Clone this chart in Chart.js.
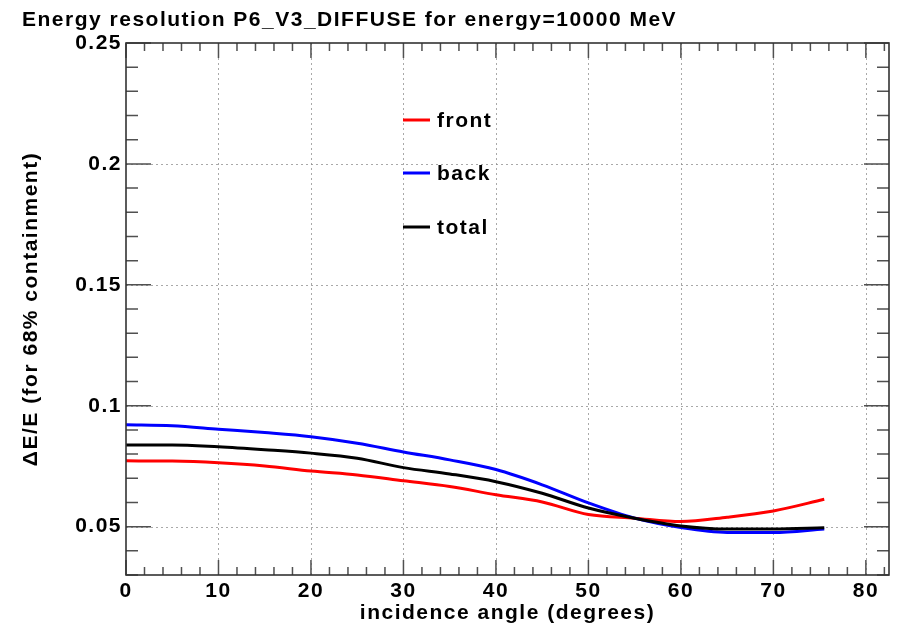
<!DOCTYPE html>
<html><head><meta charset="utf-8">
<script src="https://cdn.jsdelivr.net/npm/chart.js@4/dist/chart.umd.min.js"></script>
<style>html,body{margin:0;padding:0;background:#fff}canvas{display:block}</style>
</head><body>
<canvas id="c" width="898" height="632"></canvas>
<script>
// ---- data ----
const chartTitle = "Energy resolution P6_V3_DIFFUSE for energy=10000 MeV";
const xTitle = "incidence angle (degrees)";
const yTitle = "\u0394E/E (for 68% containment)";
const seriesNames = ["front", "back", "total"];
const angles = [0, 5, 10, 15, 20, 25, 30, 35, 40, 45, 50, 55, 60, 65, 70, 75.5];
const front = [0.0772, 0.0771, 0.0764, 0.0751, 0.0730, 0.0714, 0.0690, 0.0666, 0.0632, 0.0602, 0.0550, 0.0535, 0.0521, 0.0539, 0.0565, 0.0613];
const back  = [0.0921, 0.0917, 0.0903, 0.0889, 0.0872, 0.0845, 0.0809, 0.0776, 0.0736, 0.0673, 0.0598, 0.0535, 0.0496, 0.0476, 0.0476, 0.0490];
const total = [0.0838, 0.0838, 0.0830, 0.0818, 0.0804, 0.0783, 0.0744, 0.0718, 0.0686, 0.0638, 0.0577, 0.0535, 0.0503, 0.0490, 0.0490, 0.0495];
const xTickValues = [0, 10, 20, 30, 40, 50, 60, 70, 80];
const xTickLabels = ["0", "10", "20", "30", "40", "50", "60", "70", "80"];
const yTickValues = [0.05, 0.1, 0.15, 0.2, 0.25];
const yTickLabels = ["0.05", "0.1", "0.15", "0.2", "0.25"];
const xMin = 0, xMax = 82.5, yMin = 0.03, yMax = 0.25;
const xMinorStep = 2, yMinorStep = 0.01;

// ---- style ----
const FONT = "'Liberation Sans', Arial, Helvetica, sans-serif";
const SPACING = '1.5px';
const colors = ['#ff0000', '#0000ff', '#000000'];

function pts(ys) { return angles.map((a, i) => ({x: a, y: ys[i]})); }

const rootStyle = {
  id: 'rootStyle',
  beforeDraw(chart) { chart.ctx.letterSpacing = SPACING; },
  beforeDatasetsDraw(chart) {
    const {ctx, chartArea: ca, scales: {x, y}} = chart;
    ctx.save();
    ctx.strokeStyle = 'rgba(140,140,140,0.75)';
    ctx.lineWidth = 1;
    ctx.setLineDash([2, 3]);
    xTickValues.forEach(v => {
      const px = Math.round(x.getPixelForValue(v)) + 0.5;
      if (px <= ca.left + 1 || px >= ca.right - 1) return;
      ctx.beginPath(); ctx.moveTo(px, ca.top); ctx.lineTo(px, ca.bottom); ctx.stroke();
    });
    yTickValues.forEach(v => {
      const py = Math.round(y.getPixelForValue(v)) + 0.5;
      if (py <= ca.top + 1 || py >= ca.bottom - 1) return;
      ctx.beginPath(); ctx.moveTo(ca.left, py); ctx.lineTo(ca.right, py); ctx.stroke();
    });
    ctx.restore();
  },
  afterDatasetsDraw(chart) {
    const {ctx, chartArea: ca, scales: {x, y}} = chart;
    ctx.save();
    ctx.setLineDash([]);
    // ticks
    ctx.strokeStyle = '#505050';
    ctx.lineWidth = 1.5;
    for (let v = xMin; v <= xMax + 1e-9; v += xMinorStep) {
      const major = Math.abs(v / 10 - Math.round(v / 10)) < 1e-6;
      const len = major ? 15 : 8;
      const px = x.getPixelForValue(v);
      ctx.beginPath();
      ctx.moveTo(px, ca.bottom); ctx.lineTo(px, ca.bottom - len);
      ctx.moveTo(px, ca.top); ctx.lineTo(px, ca.top + len);
      ctx.stroke();
    }
    for (let k = 0; ; k++) {
      const v = yMin + k * yMinorStep;
      if (v > yMax + 1e-9) break;
      const major = Math.abs(v / 0.05 - Math.round(v / 0.05)) < 1e-6;
      const len = major ? 25 : 12;
      const py = y.getPixelForValue(v);
      ctx.beginPath();
      ctx.moveTo(ca.left, py); ctx.lineTo(ca.left + len, py);
      ctx.moveTo(ca.right, py); ctx.lineTo(ca.right - len, py);
      ctx.stroke();
    }
    // frame
    ctx.strokeStyle = '#333333';
    ctx.lineWidth = 1.6;
    ctx.strokeRect(ca.left, ca.top, ca.right - ca.left, ca.bottom - ca.top);
    // legend
    const lx = 403, lw = 27, tx = 437, ly = [120, 173, 227];
    ctx.font = 'bold 21px ' + FONT;
    ctx.textBaseline = 'middle';
    ctx.textAlign = 'left';
    chart.data.datasets.forEach((ds, i) => {
      ctx.strokeStyle = ds.borderColor;
      ctx.lineWidth = 3;
      ctx.beginPath(); ctx.moveTo(lx, ly[i]); ctx.lineTo(lx + lw, ly[i]); ctx.stroke();
      ctx.fillStyle = '#000';
      ctx.fillText(ds.label, tx, ly[i] + 1);
    });
    ctx.restore();
  },
  afterDraw(chart) {
    const ctx = chart.ctx;
    ctx.save();
    ctx.font = 'bold 21px ' + FONT;
    ctx.fillStyle = '#000';
    ctx.textBaseline = 'alphabetic';
    ctx.textAlign = 'left';
    ctx.fillText(chartTitle, 22, 26);
    ctx.restore();
    ctx.letterSpacing = '0px';
  }
};

const tickFont = {family: FONT, size: 21, weight: 'bold'};

new Chart(document.getElementById('c'), {
  type: 'line',
  data: {
    datasets: [
      {label: seriesNames[0], data: pts(front), borderColor: colors[0], order: 3},
      {label: seriesNames[1], data: pts(back), borderColor: colors[1], order: 2},
      {label: seriesNames[2], data: pts(total), borderColor: colors[2], order: 1}
    ]
  },
  options: {
    responsive: false,
    animation: false,
    devicePixelRatio: 1,
    layout: {padding: {top: 43, right: 9, left: 0, bottom: 0}},
    plugins: {legend: {display: false}, tooltip: {enabled: false}, title: {display: false}},
    elements: {
      point: {radius: 0, hoverRadius: 0},
      line: {borderWidth: 3, cubicInterpolationMode: 'monotone', fill: false}
    },
    scales: {
      x: {
        type: 'linear', min: xMin, max: xMax,
        grid: {display: false, drawTicks: false},
        border: {display: false},
        afterBuildTicks: s => { s.ticks = xTickValues.map(v => ({value: v})); },
        afterFit: s => { s.height = 57; },
        ticks: {padding: 4, color: '#000', font: tickFont, maxRotation: 0, autoSkip: false,
                callback: (v, i) => xTickLabels[i]},
        title: {display: true, text: xTitle, color: '#000', font: tickFont, padding: {top: 0, bottom: 6}}
      },
      y: {
        type: 'linear', min: yMin, max: yMax,
        grid: {display: false, drawTicks: false},
        border: {display: false},
        afterBuildTicks: s => { s.ticks = yTickValues.map(v => ({value: v})); },
        afterFit: s => { s.width = 126; },
        ticks: {padding: 4, color: '#000', font: tickFont, autoSkip: false,
                callback: (v, i) => yTickLabels[i]},
        title: {display: true, text: yTitle, color: '#000', font: tickFont, padding: {top: 19, bottom: 0}}
      }
    }
  },
  plugins: [rootStyle]
});
</script>
</body></html>
